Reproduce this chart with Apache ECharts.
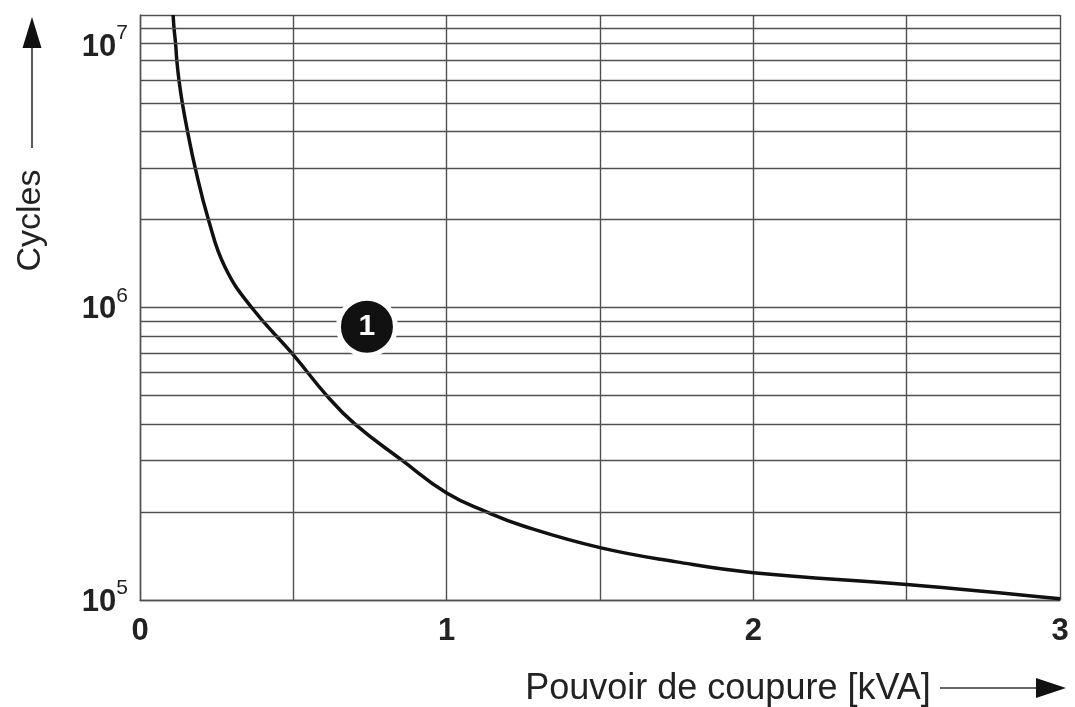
<!DOCTYPE html>
<html>
<head>
<meta charset="utf-8">
<script src="https://cdn.jsdelivr.net/npm/echarts@6/dist/echarts.min.js"></script>
<style>
html,body{margin:0;padding:0;background:#fff;}
#chart{width:1075px;height:707px;}
</style>
</head>
<body>
<div id="chart"></div>
<script>
// Curve data: breaking capacity [kVA] vs. cycles
const powerKVA = [0.108, 0.111, 0.116, 0.120, 0.127, 0.138, 0.155, 0.180, 0.223, 0.277, 0.364, 0.5, 0.609, 0.70, 0.855, 1.0, 1.13, 1.25, 1.5, 1.75, 2.0, 2.5, 3.0];
const cycles   = [1e7, 9e6, 8e6, 7e6, 6e6, 5e6, 4e6, 3e6, 2e6, 1.375e6, 1e6, 6.89e5, 5e5, 4e5, 3e5, 2.32e5, 2e5, 1.79e5, 1.51e5, 1.35e5, 1.24e5, 1.13e5, 1.01e5];
// Minor logarithmic grid lines
const minorGrid = [2e5, 3e5, 4e5, 5e5, 6e5, 7e5, 8e5, 9e5, 2e6, 3e6, 4e6, 5e6, 6e6, 7e6, 8e6, 9e6];
// Callout marker "1"
const calloutPoint = [0.74, 8.6e5];
const calloutText = '1';
const xTickLabels = ['0', '1', '2', '3'];
const xName = 'Pouvoir de coupure [kVA]';
const yName = 'Cycles';

const chart = echarts.init(document.getElementById('chart'), null, {renderer: 'canvas'});
const gridColor = '#505050';
const font = '"Liberation Sans", Arial, Helvetica, sans-serif';

const option = {
  animation: false,
  backgroundColor: '#fff',
  grid: {left: 140, right: 15, top: 15, bottom: 107, containLabel: false, outerBoundsMode: 'none'},
  xAxis: {
    type: 'value', min: 0, max: 3, interval: 0.5,
    name: xName, nameLocation: 'middle', nameGap: 71,
    nameTextStyle: {fontFamily: font, fontSize: 36, color: '#222', padding: [0, 0, 0, 256]},
    axisLine: {show: true, lineStyle: {color: gridColor, width: 1.4}},
    axisTick: {show: false},
    splitLine: {show: true, lineStyle: {color: gridColor, width: 1.4}},
    axisLabel: {
      margin: 16, fontFamily: font, fontSize: 31, fontWeight: 'bold', color: '#222',
      formatter: v => (Number.isInteger(v) ? xTickLabels[v] : '')
    }
  },
  yAxis: {
    type: 'log', logBase: 10, min: 1e5, max: 1e7,
    name: yName, nameLocation: 'middle', nameRotate: 90, nameGap: 92,
    nameTextStyle: {fontFamily: font, fontSize: 34, color: '#222', padding: [0, 0, 0, 174]},
    axisLine: {show: true, lineStyle: {color: gridColor, width: 1.4}},
    axisTick: {show: false},
    splitLine: {show: true, lineStyle: {color: gridColor, width: 1.4}},
    axisLabel: {
      margin: 12, align: 'right',
      formatter: v => {
        const e = Math.round(Math.log10(v));
        return e === 7 ? '{gap| }\n{b|10}{s|' + e + '}' : '{b|10}{s|' + e + '}';
      },
      rich: {
        gap: {fontSize: 10, lineHeight: 60},
        b: {fontFamily: font, fontSize: 31, fontWeight: 'bold', color: '#222', lineHeight: 44, padding: [4, 0, 0, 0]},
        s: {fontFamily: font, fontSize: 21, color: '#222', verticalAlign: 'top', lineHeight: 22}
      }
    }
  },
  series: [
    {
      type: 'line', smooth: 0.45, showSymbol: false, silent: true,
      data: powerKVA.map((x, i) => [x, cycles[i]]),
      lineStyle: {color: '#111', width: 3.5},
      markLine: {
        silent: true, symbol: 'none', animation: false,
        label: {show: false},
        lineStyle: {color: gridColor, width: 1.4, type: 'solid'},
        data: minorGrid.map(v => ({yAxis: v}))
      },
      z: 3
    },
    {
      type: 'scatter', silent: true, z: 5,
      data: [calloutPoint],
      symbol: 'circle', symbolSize: 57,
      itemStyle: {color: '#111', borderColor: '#fff', borderWidth: 5, opacity: 1},
      label: {show: true, position: 'inside', formatter: calloutText, fontFamily: font, fontSize: 30, fontWeight: 'bold', color: '#fff'}
    }
  ],
  graphic: [
    {type: 'line', shape: {x1: 32, y1: 148, x2: 32, y2: 45}, style: {stroke: '#333', lineWidth: 1.6}},
    {type: 'polygon', shape: {points: [[32, 17], [22.5, 48], [41.5, 48]]}, style: {fill: '#111'}},
    {type: 'line', shape: {x1: 940, y1: 688, x2: 1040, y2: 688}, style: {stroke: '#333', lineWidth: 1.6}},
    {type: 'polygon', shape: {points: [[1066, 688], [1036, 678], [1036, 698]]}, style: {fill: '#111'}}
  ]
};
chart.setOption(option);
</script>
</body>
</html>
